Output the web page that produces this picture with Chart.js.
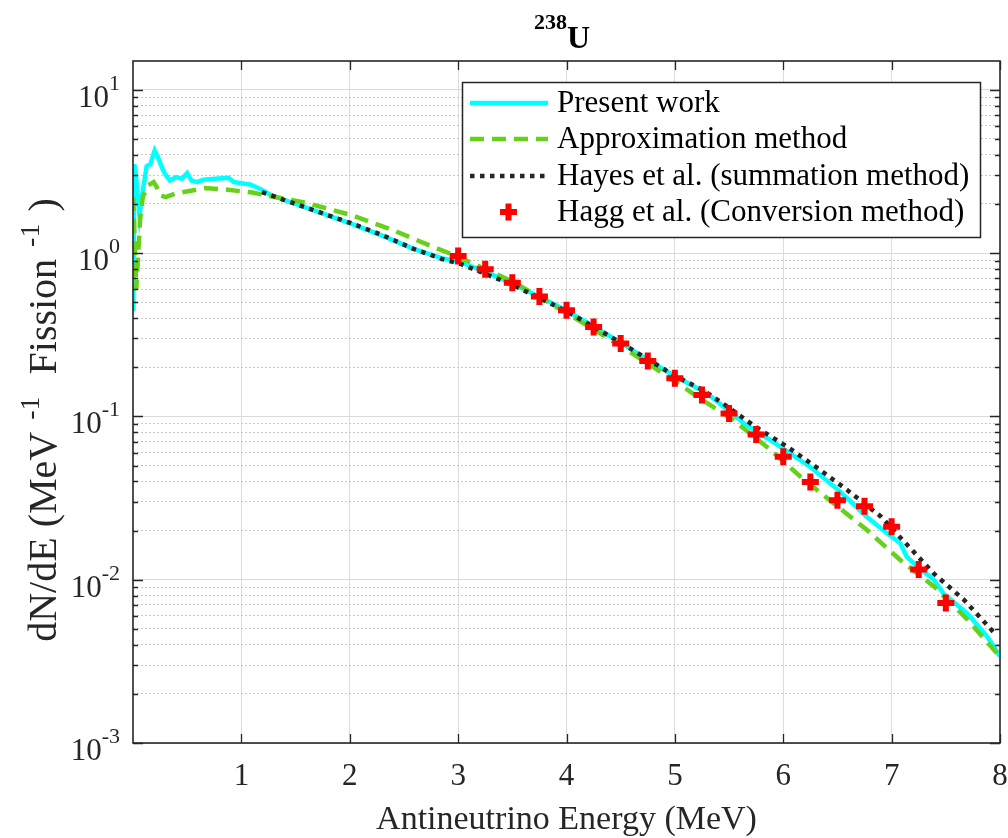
<!DOCTYPE html>
<html><head><meta charset="utf-8">
<script src="https://cdn.jsdelivr.net/npm/chart.js@4.4.1/dist/chart.umd.min.js"></script>
<style>html,body{margin:0;padding:0;background:#fff;}#wrap{width:1008px;height:838px;position:relative;}</style>
</head><body><div id="wrap"><canvas id="c" width="1008" height="838"></canvas></div>
<script>
// ---- data ----
const presentE = [0.003,0.012,0.025,0.06,0.09,0.126,0.16,0.2,0.23,0.265,0.295,0.34,0.37,0.40,0.45,0.5,0.54,0.59,0.65,0.76,0.88,0.93,1.0,1.08,1.17,1.28,1.5,1.76,2.03,2.31,2.59,2.85,3.0,3.25,3.5,3.75,4.0,4.25,4.5,4.75,5.0,5.3,5.64,5.91,6.25,6.53,6.77,6.96,7.08,7.14,7.24,7.39,7.48,7.7,7.88,8.0];
const presentN = [0.44,3.5,3.1,1.7,2.4,3.4,3.5,4.25,3.87,3.36,3.06,2.78,2.85,2.92,2.85,3.09,2.78,2.72,2.81,2.85,2.89,2.72,2.68,2.63,2.48,2.25,2.0,1.74,1.5,1.27,1.06,0.93,0.89,0.77,0.65,0.54,0.445,0.355,0.283,0.222,0.176,0.138,0.0904,0.0695,0.049,0.0344,0.0243,0.0192,0.0167,0.0138,0.012,0.0100,0.0082,0.0062,0.0045,0.0034];
const approxE = [0.003,0.015,0.03,0.065,0.09,0.14,0.19,0.22,0.25,0.3,0.39,0.66,0.85,1.1,1.28,1.57,2.0,2.4,2.77,3.0,3.5,4.0,4.5,5.0,5.23,5.54,5.85,6.16,6.47,6.77,7.08,7.39,7.7,8.0];
const approxN = [2.2,1.2,0.6,1.59,2.2,2.6,2.72,2.53,2.26,2.2,2.31,2.5,2.45,2.35,2.22,2.05,1.72,1.38,1.09,0.95,0.67,0.43,0.27,0.164,0.129,0.095,0.065,0.0427,0.0292,0.0202,0.0132,0.0091,0.0057,0.00337];
const hayesE = [1.19,1.48,1.76,2.03,2.31,2.59,2.85,3.02,3.5,4.0,4.5,5.0,5.26,5.5,5.74,6.04,6.34,6.59,6.9,7.16,7.39,7.67,7.95];
const hayesN = [2.36,2.02,1.74,1.51,1.28,1.06,0.92,0.86,0.64,0.44,0.283,0.177,0.145,0.113,0.0866,0.065,0.047,0.0354,0.0244,0.0159,0.0109,0.0075,0.0047];
const haggE = [3.0,3.25,3.5,3.75,4.0,4.25,4.5,4.75,5.0,5.25,5.5,5.75,6.0,6.25,6.5,6.75,7.0,7.25,7.5];
const haggN = [0.958,0.795,0.659,0.543,0.446,0.352,0.279,0.218,0.171,0.135,0.104,0.0774,0.0565,0.0397,0.0307,0.0282,0.0211,0.01153,0.00721];
const xTickValues = [1,2,3,4,5,6,7,8];
const yMajorValues = [0.001,0.01,0.1,1,10];
const yTickExponents = ['-3','-2','-1','0','1'];
const seriesNames = ['Present work','Approximation method','Hayes et al. (summation method)','Hagg et al. (Conversion method)'];
const titleSup = '238', titleMain = 'U';
const xTitle = 'Antineutrino Energy (MeV)';
const yTitleParts = [['dN/dE (MeV',false],['-1',true],[' Fission',false],['-1',true],[')',false]];

const yMin = 0.001, yMax = 15;
const yMinorValues = [];
for (let k = -3; k <= 1; k++) for (let m = 2; m <= 9; m++) { const v = m * Math.pow(10, k); if (v < yMax) yMinorValues.push(+v.toPrecision(3)); }

const FONT = "'Liberation Serif','Times New Roman',serif";
const INK = '#262626';
const pts = (E, N) => E.map((x, i) => ({x, y: N[i]}));

const styles = [
  {color:'#00FFFF', width:4.5, dash:[]},
  {color:'#66D11A', width:4.5, dash:[14,8]},
  {color:'#262626', width:4.5, dash:[4.5,5.5]},
  {color:'#FF0000', width:6, dash:[]}
];

function drawRich(ctx, parts, x, y, align) {
  let w = 0;
  parts.forEach(p => { ctx.font = (p.bold ? 'bold ' : '') + p.size + 'px ' + FONT; p.w = ctx.measureText(p.t).width + (p.gap || 0); w += p.w; });
  let cx = align === 'right' ? x - w : align === 'center' ? x - w / 2 : x;
  ctx.textAlign = 'left'; ctx.textBaseline = 'alphabetic';
  parts.forEach(p => { ctx.font = (p.bold ? 'bold ' : '') + p.size + 'px ' + FONT; ctx.fillText(p.t, cx + (p.gap || 0) / 2, y + (p.dy || 0)); cx += p.w; });
}

const decor = {
  id: 'decor',
  afterDatasetsDraw(chart) {
    const {ctx, chartArea: a, scales} = chart;
    const x = scales.x, y = scales.y;
    ctx.save();
    ctx.strokeStyle = INK; ctx.lineWidth = 1.3; ctx.setLineDash([]);
    ctx.beginPath();
    xTickValues.forEach(v => { const px = Math.round(x.getPixelForValue(v)) + 0.5; ctx.moveTo(px, a.bottom); ctx.lineTo(px, a.bottom - 9); ctx.moveTo(px, a.top); ctx.lineTo(px, a.top + 9); });
    yMajorValues.forEach(v => { const py = Math.round(y.getPixelForValue(v)) + 0.5; ctx.moveTo(a.left, py); ctx.lineTo(a.left + 10, py); ctx.moveTo(a.right, py); ctx.lineTo(a.right - 10, py); });
    yMinorValues.forEach(v => { const py = Math.round(y.getPixelForValue(v)) + 0.5; ctx.moveTo(a.left, py); ctx.lineTo(a.left + 5, py); ctx.moveTo(a.right, py); ctx.lineTo(a.right - 5, py); });
    ctx.stroke();
    ctx.lineWidth = 1.6;
    ctx.strokeRect(a.left, a.top, a.right - a.left, a.bottom - a.top);
    ctx.restore();
  },
  afterDraw(chart) {
    const {ctx, chartArea: a, scales} = chart;
    const y = scales.y;
    ctx.save();
    ctx.fillStyle = INK;
    yMajorValues.forEach((v, i) => {
      const py = y.getPixelForValue(v);
      drawRich(ctx, [{t:'10', size:31}, {t:yTickExponents[i], size:22, dy:-17}], a.left - 13, py + 17, 'right');
    });
    ctx.save();
    ctx.translate(56, 420);
    ctx.rotate(-Math.PI / 2);
    drawRich(ctx, yTitleParts.map(p => p[1] ? {t:p[0], size:28, dy:-17, gap:24} : {t:p[0], size:40}), 0, 0, 'center');
    ctx.restore();
    ctx.fillStyle = '#000';
    drawRich(ctx, [{t:titleSup, size:22, bold:true, dy:-19}, {t:titleMain, size:32, bold:true}], 562, 48, 'center');
    const L = {x:462, y:82, w:518, h:155};
    ctx.fillStyle = '#fff';
    ctx.fillRect(L.x, L.y, L.w, L.h);
    ctx.strokeStyle = INK; ctx.lineWidth = 1.5;
    ctx.strokeRect(L.x + 0.5, L.y + 0.5, L.w, L.h);
    const rows = [103, 139, 176, 212];
    chart.data.datasets.forEach((ds, i) => {
      const st = styles[i], ry = rows[i];
      ctx.save();
      ctx.strokeStyle = st.color; ctx.lineWidth = st.width;
      if (i < 3) {
        ctx.setLineDash(st.dash);
        ctx.beginPath(); ctx.moveTo(470, ry); ctx.lineTo(548, ry); ctx.stroke();
      } else {
        ctx.beginPath(); ctx.moveTo(500, ry); ctx.lineTo(517, ry); ctx.moveTo(508.5, ry - 8.5); ctx.lineTo(508.5, ry + 8.5); ctx.stroke();
      }
      ctx.restore();
      ctx.fillStyle = '#000';
      ctx.font = '31px ' + FONT; ctx.textAlign = 'left'; ctx.textBaseline = 'middle';
      ctx.fillText(ds.label, 557, ry + 1);
    });
    ctx.restore();
  }
};

new Chart(document.getElementById('c'), {
  type: 'line',
  data: {
    datasets: [
      {label: seriesNames[0], data: pts(presentE, presentN), borderColor: styles[0].color, borderWidth: styles[0].width, pointRadius: 0, fill: false, tension: 0, order: 3},
      {label: seriesNames[1], data: pts(approxE, approxN), borderColor: styles[1].color, borderWidth: styles[1].width, borderDash: styles[1].dash, pointRadius: 0, fill: false, tension: 0, order: 2},
      {label: seriesNames[2], data: pts(hayesE, hayesN), borderColor: styles[2].color, borderWidth: styles[2].width, borderDash: styles[2].dash, borderCapStyle: 'butt', pointRadius: 0, fill: false, tension: 0, order: 1},
      {label: seriesNames[3], data: pts(haggE, haggN), showLine: false, pointStyle: 'cross', pointRadius: 8.5, pointBorderWidth: 6, pointBorderColor: styles[3].color, pointBackgroundColor: styles[3].color, order: 0}
    ]
  },
  options: {
    responsive: false, animation: false, devicePixelRatio: 1,
    layout: {autoPadding: false, padding: {top: 61, right: 8, left: 0, bottom: 0}},
    plugins: {legend: {display: false}, tooltip: {enabled: false}},
    scales: {
      x: {
        type: 'linear', min: 0, max: 8,
        afterBuildTicks: s => { s.ticks = xTickValues.map(v => ({value: v})); },
        afterFit: s => { s.height = 95; s.paddingRight = 0; s.paddingLeft = 0; },
        grid: {color: c => (c.tick && c.tick.value === 8) ? 'rgba(0,0,0,0)' : '#dddddd', lineWidth: 1, drawTicks: false},
        border: {display: false},
        ticks: {font: {family: FONT, size: 31}, color: INK, padding: 15, maxRotation: 0, autoSkip: false, callback: v => String(v)},
        title: {display: true, text: xTitle, font: {family: FONT, size: 34}, color: INK, padding: {top: 0, bottom: -2}}
      },
      y: {
        type: 'logarithmic', position: 'left', min: yMin, max: yMax,
        afterBuildTicks: s => { s.ticks = yMajorValues.map(v => ({value: v, major: true})); },
        afterFit: s => { s.width = 133; s.paddingTop = 0; s.paddingBottom = 0; },
        grid: {color: '#dadada', lineWidth: 1, drawTicks: false},
        border: {display: false},
        ticks: {display: false}
      },
      y2: {
        type: 'logarithmic', position: 'left', min: yMin, max: yMax,
        afterBuildTicks: s => { s.ticks = yMinorValues.map(v => ({value: v})); },
        afterFit: s => { s.width = 0; s.paddingTop = 0; s.paddingBottom = 0; },
        grid: {color: '#c8c8c8', lineWidth: 1, drawTicks: false},
        border: {display: false, dash: [2, 2]},
        ticks: {display: false}
      }
    }
  },
  plugins: [decor]
});
</script>
</body></html>
